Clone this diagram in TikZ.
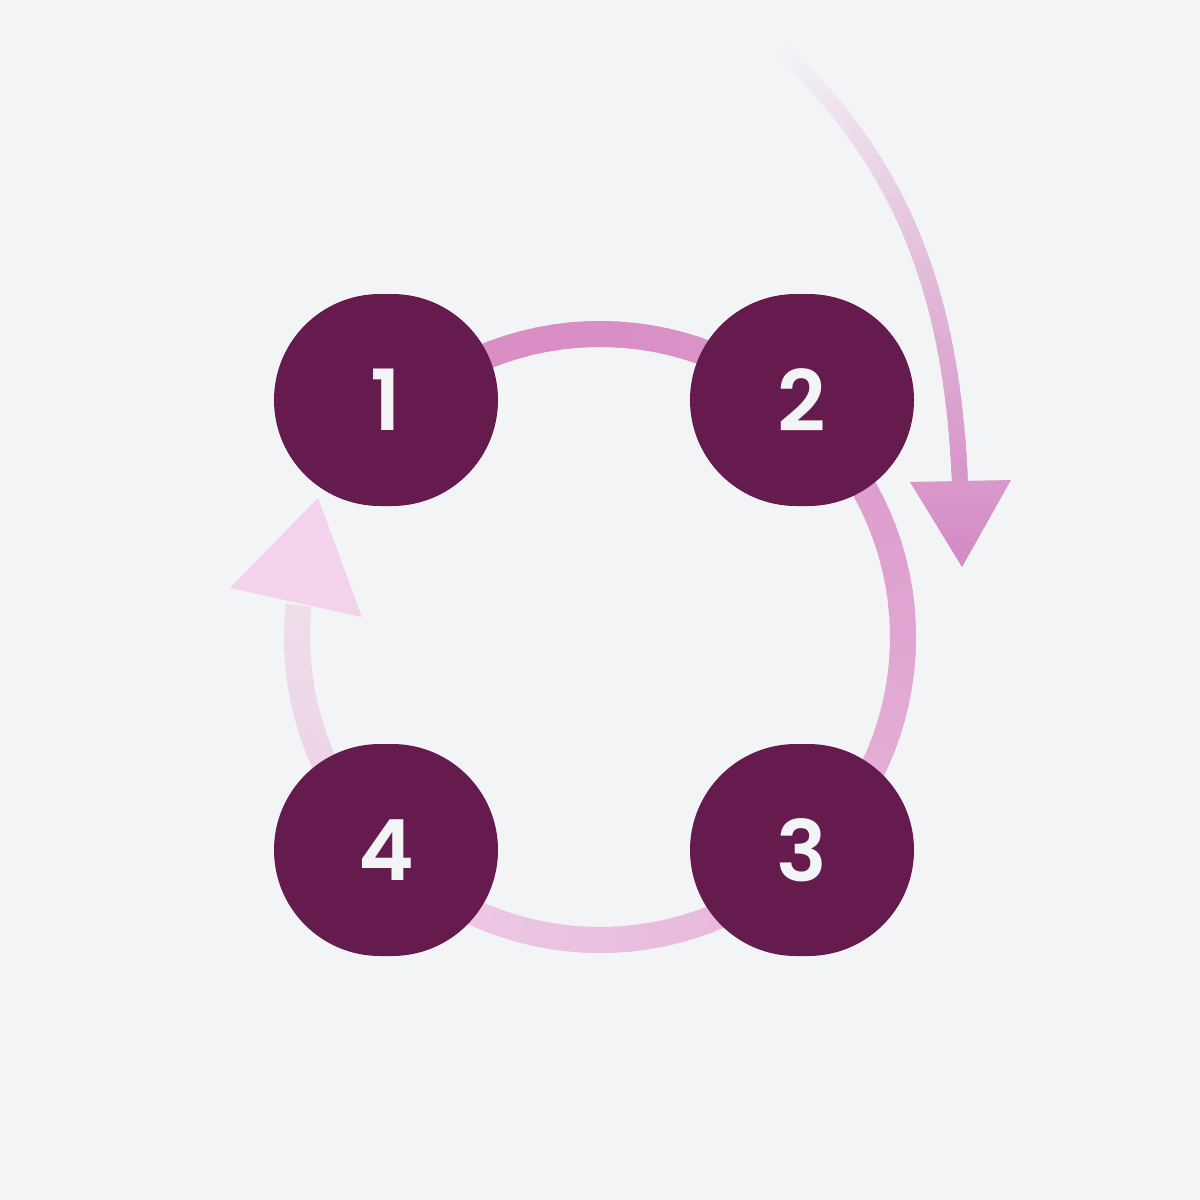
\documentclass[tikz,border=0pt]{standalone}
\usepackage{fontspec}
\newfontfamily\digitfont{Poppins SemiBold}
\definecolor{bg}{HTML}{F3F4F6}
\definecolor{nodefill}{HTML}{661B4F}
\definecolor{txt}{HTML}{F3F4F6}
\definecolor{rA}{HTML}{D98EC6}
\definecolor{rB}{HTML}{E0A6D2}
\definecolor{rC}{HTML}{EBC0E0}
\definecolor{rD}{HTML}{EEDEEA}
\definecolor{headL}{HTML}{F3D3EC}
\definecolor{arrP}{HTML}{D58CC4}
\definecolor{headTop}{HTML}{D998CA}
\definecolor{headBot}{HTML}{D38AC3}
\begin{document}
\begin{tikzpicture}[x=0.01cm,y=-0.01cm,
  stepnode/.style={inner sep=0pt, text=txt,
    font=\digitfont\fontsize{24}{26}\selectfont},
  stepfill/.style={fill=nodefill},
  ringseg/.style={line width=0.26cm},
  tailseg/.style={line width=0.16cm, line cap=round}]
\fill[bg] (0,0) rectangle (1200,1200);
\useasboundingbox (0,0) rectangle (1200,1200);
\coordinate (rc) at (600,637);
% ring with gradient along its path
\foreach \a in {-129,-126,...,-93}
  \draw[ringseg, rA] (rc) ++(\a:303) arc[start angle=\a, delta angle=3.6, radius=303];
\foreach \a in {-90,-87,...,-3}{
  \pgfmathtruncatemacro\p{100*(\a+90)/90}
  \draw[ringseg, color=rB!\p!rA] (rc) ++(\a:303) arc[start angle=\a, delta angle=3.6, radius=303];
}
\foreach \a in {0,3,...,87}{
  \pgfmathtruncatemacro\p{100*\a/90}
  \draw[ringseg, color=rC!\p!rB] (rc) ++(\a:303) arc[start angle=\a, delta angle=3.6, radius=303];
}
\foreach \a in {90,93,...,180}{
  \pgfmathtruncatemacro\p{100*(\a-90)/96}
  \draw[ringseg, color=rD!\p!rC] (rc) ++(\a:303) arc[start angle=\a, delta angle=3.6, radius=303];
}
\draw[ringseg, rD] (rc) ++(183:303) arc[start angle=183, delta angle=3, radius=303];
% arrowhead at the end of the ring
\coordinate (hl1) at (230,588);
\coordinate (hl2) at (318,498);
\coordinate (hl3) at (362,617);
\fill[headL] (hl1) -- (hl2) -- (hl3) -- cycle;
% incoming curved arrow, fading in
\coordinate (t0) at (778,46);
\coordinate (t1) at (898,160);
\coordinate (t2) at (952,285);
\coordinate (t3) at (960,484);
\foreach \i in {0,...,39}{
  \pgfmathsetmacro\ta{\i/40}
  \pgfmathsetmacro\tb{min(1,(\i+1.2)/40)}
  \pgfmathtruncatemacro\p{min(100,92*\ta)}
  \path (t0) .. controls (t1) and (t2) .. (t3) coordinate[pos=\ta] (sa) coordinate[pos=\tb] (sb);
  \draw[tailseg, color=arrP!\p!bg] (sa) -- (sb);
}
\coordinate (hr1) at (910,482);
\coordinate (hr2) at (1011,480);
\coordinate (hr3) at (962,567);
\shade[top color=headTop, bottom color=headBot] (hr1) -- (hr2) -- (hr3) -- cycle;
% numbered nodes: discs, slightly wider than tall
\coordinate (c1) at (386,400);
\coordinate (c2) at (802,400);
\coordinate (c3) at (802,850);
\coordinate (c4) at (386,850);
\foreach \c in {c1,c2,c3,c4}
  \fill[stepfill] (\c) ++(-6,-106) -- ++(12,0)
    arc[start angle=-90, end angle=90, radius=106] -- ++(-12,0)
    arc[start angle=90, end angle=270, radius=106] -- cycle;
\node[stepnode] (n1) at (c1) {1};
\node[stepnode] (n2) at (c2) {2};
\node[stepnode] (n3) at (c3) {3};
\node[stepnode] (n4) at (c4) {4};
\end{tikzpicture}
\end{document}
